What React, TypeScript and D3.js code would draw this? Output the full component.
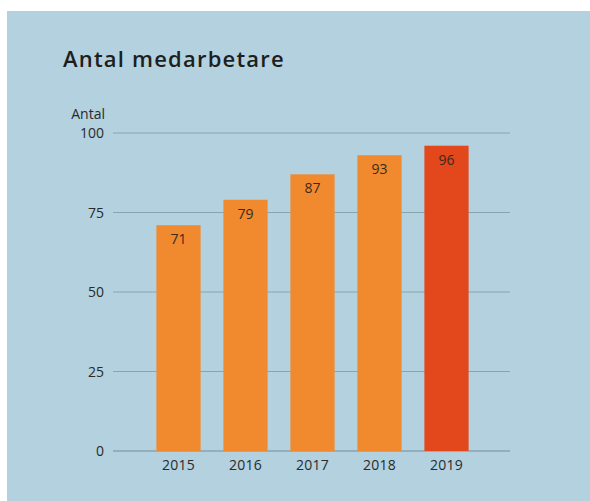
import React from "react";
import * as d3 from "d3";

const years = ["2015", "2016", "2017", "2018", "2019"];
const values = [71, 79, 87, 93, 96];
const highlight = ["2019"];
const yTicks = [0, 25, 50, 75, 100];
const title = "Antal medarbetare";
const yLabel = "Antal";

export default function App() {
  const W = 590, H = 501;
  const font = "'Open Sans', 'DejaVu Sans', sans-serif";
  const y = d3.scaleLinear().domain([0, 100]).range([451, 133]);
  const x = d3.scaleBand().domain(years).range([145, 480]).paddingInner(0.34).paddingOuter(0.17);
  const data = years.map((yr, i) => ({ yr, v: values[i] }));
  return (
    <svg width={W} height={H} style={{ position: "fixed", left: 0, top: 0 }} fontFamily={font}>
      <rect x={0} y={0} width={W} height={H} fill="#ffffff" />
      <rect x={7} y={11} width={W - 7} height={H - 11} fill="#b3d1df" />
      <text x={63} y={67} fontSize={22} fontWeight={600} letterSpacing={1.2} fill="#1e1e1e">{title}</text>
      <text x={105} y={119} fontSize={14} textAnchor="end" fill="#2a2a2a">{yLabel}</text>
      {yTicks.map((t) => (
        <g key={t}>
          <line x1={113} x2={510} y1={y(t)} y2={y(t)} stroke="#8aa3b0" strokeWidth={t === 0 ? 1.5 : 1} />
          <text x={104} y={y(t) + 5} fontSize={14} textAnchor="end" fill="#2a2a2a">{t}</text>
        </g>
      ))}
      {data.map((d) => (
        <g key={d.yr}>
          <rect x={x(d.yr)} y={y(d.v)} width={x.bandwidth()} height={y(0) - y(d.v)}
            fill={highlight.includes(d.yr) ? "#e2481c" : "#f18a2e"} />
          <text x={(x(d.yr) as number) + x.bandwidth() / 2} y={y(d.v) + 19} fontSize={14}
            textAnchor="middle" fill="#3a2a1e">{d.v}</text>
          <text x={(x(d.yr) as number) + x.bandwidth() / 2} y={470} fontSize={14}
            letterSpacing={0.3} textAnchor="middle" fill="#2a2a2a">{d.yr}</text>
        </g>
      ))}
    </svg>
  );
}
